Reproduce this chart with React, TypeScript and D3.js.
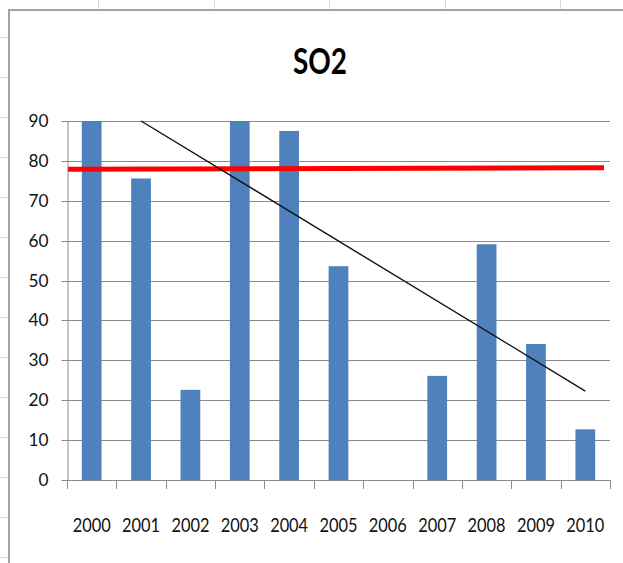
import React, { useEffect, useRef } from 'react';
import * as d3 from 'd3';

// chart values
const years = ['2000', '2001', '2002', '2003', '2004', '2005', '2006', '2007', '2008', '2009', '2010'];
const so2Values = [90, 75.6, 22.6, 90, 87.5, 53.6, 0, 26.1, 59.1, 34.1, 12.7];
const yTicks = [0, 10, 20, 30, 40, 50, 60, 70, 80, 90];
const limitValues = [77.9, 78.3]; // red line, left end and right end
const trendYears = ['2001', '2010'];
const trendValues = [90, 22.3];
const chartTitle = 'SO2';

const W = 623;
const H = 563;

const App = () => {
  const svgRef = useRef(null);

  useEffect(() => {
    if (!svgRef.current) return;
    const svg = d3.select(svgRef.current);
    svg.selectAll('*').remove();

    const font = 'Lato, "Noto Sans", sans-serif';
    const margin = { top: 121, right: 13, bottom: 83, left: 67 };
    const left = margin.left;
    const right = W - margin.right;
    const top = margin.top;
    const bottom = H - margin.bottom;

    // spreadsheet background
    svg.append('rect').attr('width', W).attr('height', H).attr('fill', '#ffffff');
    const sheet = svg.append('g').attr('stroke', '#d5dce8').attr('stroke-width', 1);
    d3.range(37, H, 40).forEach((yy) => {
      sheet.append('line').attr('x1', 0).attr('x2', 8).attr('y1', yy + 0.5).attr('y2', yy + 0.5);
    });
    d3.range(98, W, 115.5).forEach((xx) => {
      sheet.append('line').attr('x1', Math.round(xx) + 0.5).attr('x2', Math.round(xx) + 0.5).attr('y1', 0).attr('y2', 9);
    });

    // chart area
    svg
      .append('rect')
      .attr('x', 9)
      .attr('y', 10)
      .attr('width', W + 20)
      .attr('height', H + 20)
      .attr('fill', '#ffffff')
      .attr('stroke', '#a3a3a3')
      .attr('stroke-width', 2);

    // title
    svg
      .append('text')
      .attr('x', 320)
      .attr('y', 74)
      .attr('text-anchor', 'middle')
      .attr('textLength', 54)
      .attr('lengthAdjust', 'spacingAndGlyphs')
      .style('font-family', font)
      .style('font-weight', 'bold')
      .style('font-size', '37px')
      .style('fill', '#000')
      .text(chartTitle);

    const xOuter = d3.scaleBand().domain(years).range([left, right]).padding(0);
    const xBar = d3.scaleBand().domain(years).range([left, right]).paddingInner(0.6).paddingOuter(0.3);
    const y = d3.scaleLinear().domain([0, 90]).range([bottom, top]);

    // gridlines
    svg
      .append('g')
      .selectAll('line')
      .data(yTicks.filter((t) => t > 0))
      .enter()
      .append('line')
      .attr('x1', left)
      .attr('x2', right)
      .attr('y1', (d) => Math.round(y(d)) + 0.5)
      .attr('y2', (d) => Math.round(y(d)) + 0.5)
      .attr('stroke', '#8a8a8a');

    // y axis
    const yAxis = svg
      .append('g')
      .attr('transform', `translate(${left + 0.5},0.5)`)
      .call(d3.axisLeft(y).tickValues(yTicks).tickSize(6).tickSizeOuter(0).tickPadding(13));
    yAxis.select('.domain').attr('stroke', '#8a8a8a');
    yAxis.selectAll('.tick line').attr('stroke', '#8a8a8a');
    yAxis
      .selectAll('.tick text')
      .attr('textLength', (d) => String(d).length * 10)
      .attr('lengthAdjust', 'spacingAndGlyphs')
      .style('font-family', font)
      .style('font-size', '18px')
      .style('fill', '#111');
    yAxis.selectAll('.tick').attr('transform', (d) => `translate(0,${Math.round(y(d))})`);

    // bars
    svg
      .append('g')
      .selectAll('rect')
      .data(years)
      .enter()
      .append('rect')
      .attr('x', (d) => xBar(d))
      .attr('y', (d, i) => y(so2Values[i]))
      .attr('width', xBar.bandwidth())
      .attr('height', (d, i) => bottom - y(so2Values[i]))
      .attr('fill', '#4f81bd');

    // x axis line and boundary ticks
    const xg = svg.append('g');
    xg.append('line')
      .attr('x1', left)
      .attr('x2', right + 0.5)
      .attr('y1', bottom + 0.5)
      .attr('y2', bottom + 0.5)
      .attr('stroke', '#8a8a8a');
    const bounds = years.map((d) => xOuter(d)).concat([right]);
    xg.selectAll('.xtick')
      .data(bounds)
      .enter()
      .append('line')
      .attr('x1', (d) => Math.round(d) + 0.5)
      .attr('x2', (d) => Math.round(d) + 0.5)
      .attr('y1', bottom)
      .attr('y2', bottom + 9)
      .attr('stroke', '#8a8a8a');
    xg.selectAll('.xlabel')
      .data(years)
      .enter()
      .append('text')
      .attr('x', (d) => xOuter(d) + xOuter.bandwidth() / 2)
      .attr('y', bottom + 52)
      .attr('text-anchor', 'middle')
      .attr('textLength', 38)
      .attr('lengthAdjust', 'spacingAndGlyphs')
      .style('font-family', font)
      .style('font-size', '20px')
      .style('fill', '#111')
      .text((d) => d);

    // red limit line
    svg
      .append('line')
      .attr('x1', left + 1)
      .attr('x2', right - 6)
      .attr('y1', y(limitValues[0]))
      .attr('y2', y(limitValues[1]))
      .attr('stroke', '#ff0000')
      .attr('stroke-width', 5);

    // trend line
    const line = d3
      .line()
      .x((d) => xOuter(d[0]) + xOuter.bandwidth() / 2)
      .y((d) => y(d[1]));
    svg
      .append('path')
      .attr('d', line(trendYears.map((d, i) => [d, trendValues[i]])))
      .attr('fill', 'none')
      .attr('stroke', '#111')
      .attr('stroke-width', 1.4);
  }, []);

  return (
    <svg
      ref={svgRef}
      width={W}
      height={H}
      style={{ position: 'absolute', left: 0, top: 0, display: 'block' }}
    />
  );
};

export default App;
